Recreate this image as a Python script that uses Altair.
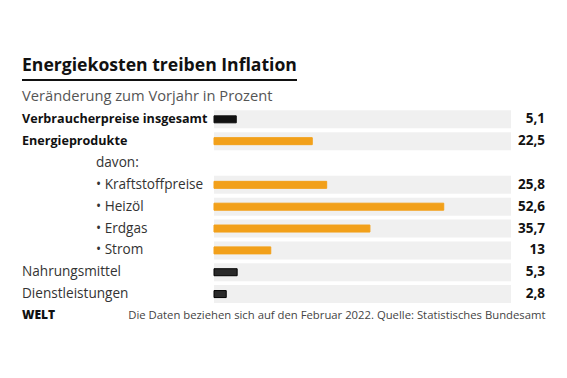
import altair as alt
import pandas as pd

labels = ["Verbraucherpreise insgesamt", "Energieprodukte", "davon:", "Kraftstoffpreise",
          "Heizöl", "Erdgas", "Strom", "Nahrungsmittel", "Dienstleistungen"]
values = [5.1, 22.5, None, 25.8, 52.6, 35.7, 13, 5.3, 2.8]
groups = ["gesamt", "energie", "header", "energie", "energie", "energie", "energie", "sonst", "sonst"]
levels = ["main", "main", "davon", "sub", "sub", "sub", "sub", "other", "other"]
x_max = 68

title = "Energiekosten treiben Inflation"
subtitle = "Veränderung zum Vorjahr in Prozent"
brand = "WELT"
note = "Die Daten beziehen sich auf den Februar 2022. Quelle: Statistisches Bundesamt"

df = pd.DataFrame({"label": labels, "value": values, "group": groups, "level": levels})

FONT = "Open Sans"
ORANGE = "#f2a01a"

xs = alt.Scale(domain=[0, x_max], range=[206, 503], nice=False, zero=True)
ys = alt.Scale(domain=labels, range=[100.4, 297], paddingInner=0, paddingOuter=0)
Y = alt.Y("label:N", sort=labels, scale=ys, axis=None)

base = alt.Chart(df)
has_val = alt.datum.value != None

bg = base.transform_filter(has_val).mark_bar(size=18, color="#f0f0f0").encode(
    x=alt.datum(0, scale=xs, axis=None), x2=alt.datum(x_max), y=Y)

bars = base.transform_filter(has_val).mark_bar(size=7).encode(
    x=alt.X("value:Q", scale=xs, axis=None), x2=alt.datum(0), y=Y,
    color=alt.Color("group:N", scale=alt.Scale(domain=["gesamt", "energie", "sonst"],
                                               range=["#111111", ORANGE, "#2a2a2a"]), legend=None),
    stroke=alt.Stroke("group:N", scale=alt.Scale(domain=["gesamt", "energie", "sonst"],
                                                 range=["#111111", ORANGE, "#000000"]), legend=None))

vals = base.transform_filter(has_val).transform_calculate(
    txt="replace(toString(datum.value), '.', ',')"
).mark_text(align="right", baseline="middle", font=FONT, fontSize=13.5, fontWeight="bold",
            color="#111111").encode(x=alt.value(537), y=Y, text="txt:N")

lab_main = base.transform_filter(alt.datum.level == "main").mark_text(
    align="left", baseline="middle", font=FONT, fontSize=12.6, fontWeight="bold", color="#111111"
).encode(x=alt.value(14), y=Y, text="label:N")

lab_other = base.transform_filter(alt.datum.level == "other").mark_text(
    align="left", baseline="middle", font=FONT, fontSize=13.6, color="#333333"
).encode(x=alt.value(14), y=Y, text="label:N")

lab_davon = base.transform_filter(alt.datum.level == "davon").mark_text(
    align="left", baseline="middle", font=FONT, fontSize=13.6, color="#333333"
).encode(x=alt.value(88), y=Y, text="label:N")

lab_sub = base.transform_filter(alt.datum.level == "sub").transform_calculate(
    txt="'• ' + datum.label"
).mark_text(align="left", baseline="middle", font=FONT, fontSize=13.6, color="#333333"
).encode(x=alt.value(88), y=Y, text="txt:N")

t_df = pd.DataFrame({"t": [title]})
title_m = alt.Chart(t_df).mark_text(align="left", baseline="alphabetic", font=FONT, fontSize=17.6,
                                    fontWeight="bold", color="#111111").encode(
    x=alt.value(14), y=alt.value(63), text="t:N")
rule = alt.Chart(t_df).mark_rule(color="#111111", strokeWidth=2).encode(
    x=alt.value(14), x2=alt.value(289), y=alt.value(72))
sub_m = alt.Chart(pd.DataFrame({"t": [subtitle]})).mark_text(
    align="left", baseline="alphabetic", font=FONT, fontSize=14.7, color="#555555").encode(
    x=alt.value(14), y=alt.value(93), text="t:N")
brand_m = alt.Chart(pd.DataFrame({"t": [brand]})).mark_text(
    align="left", baseline="middle", font=FONT, fontSize=12, fontWeight=800, color="#111111").encode(
    x=alt.value(14), y=alt.value(307), text="t:N")
note_m = alt.Chart(pd.DataFrame({"t": [note]})).mark_text(
    align="right", baseline="middle", font=FONT, fontSize=11.3, color="#444444").encode(
    x=alt.value(537.5), y=alt.value(308), text="t:N")

chart = alt.layer(bg, bars, vals, lab_main, lab_other, lab_davon, lab_sub,
                  title_m, rule, sub_m, brand_m, note_m).properties(
    width=551, height=362, padding=0, autosize=alt.AutoSizeParams(type="none")
).configure(background="white", view=alt.ViewConfig(stroke=None))

chart.save("out.html", embed_options={"renderer": "svg", "actions": False})
